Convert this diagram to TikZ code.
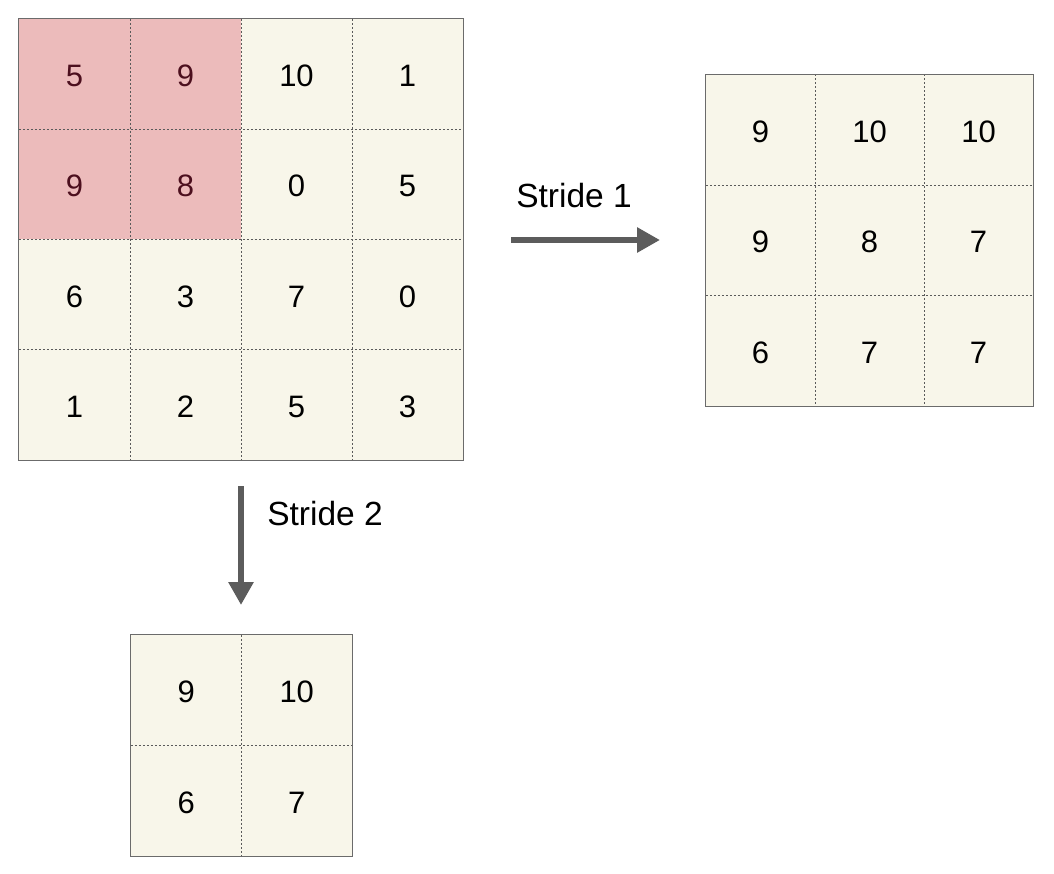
\documentclass[tikz,border=0pt]{standalone}
\usepackage{fontspec}
\setmainfont{Liberation Sans}
\usetikzlibrary{arrows.meta}
\definecolor{cream}{HTML}{F8F6EA}
\definecolor{pinkc}{HTML}{ECBBBB}
\definecolor{pinktxt}{HTML}{4C0F1E}
\definecolor{gridc}{HTML}{5A5A5A}
\definecolor{outerc}{HTML}{6B6B6B}
\definecolor{arrc}{HTML}{5C5C5C}
\tikzset{
  cellbase/.style={fill=cream, inner sep=0pt, text height=25pt, text depth=0pt, font=\fontsize{31}{36}\selectfont},
  cellA/.style={cellbase, minimum width=111pt, minimum height=110.25pt},
  hlA/.style={cellA, fill=pinkc, text=pinktxt},
  cellB/.style={cellbase, minimum width=109pt, minimum height=110.5pt},
  cellC/.style={cellbase, minimum width=110.5pt, minimum height=110.5pt},
  gridline/.style={gridc, line width=1pt, dash pattern=on 2pt off 2pt},
  outerline/.style={outerc, line width=1.2pt},
  bigarrow/.style={arrc, line width=6pt, -{Triangle[length=23pt,width=24pt]}},
  lbl/.style={font=\fontsize{33.5}{40}\selectfont, inner sep=0pt}
}
\begin{document}
\begin{tikzpicture}[x=1pt,y=-1pt]
\useasboundingbox (0,0) rectangle (1054,874);
% main 4x4 grid
\foreach \r/\c/\v/\s in {0/0/5/hlA,0/1/9/hlA,0/2/10/cellA,0/3/1/cellA,
                         1/0/9/hlA,1/1/8/hlA,1/2/0/cellA,1/3/5/cellA,
                         2/0/6/cellA,2/1/3/cellA,2/2/7/cellA,2/3/0/cellA,
                         3/0/1/cellA,3/1/2/cellA,3/2/5/cellA,3/3/3/cellA}
  \node[\s] (A\r\c) at (19+111*\c+55.5, 19+110.25*\r+55.125) {\v};
\foreach \c in {0,1,2} \draw[gridline] (A0\c.north east) -- (A3\c.south east);
\foreach \r in {0,1,2} \draw[gridline] (A\r0.south west) -- (A\r3.south east);
\draw[outerline] (A00.north west) rectangle (A33.south east);
% right 3x3 grid
\foreach \r/\c/\v in {0/0/9,0/1/10,0/2/10,1/0/9,1/1/8,1/2/7,2/0/6,2/1/7,2/2/7}
  \node[cellB] (B\r\c) at (706+109*\c+54.5, 74.5+110.5*\r+55.25) {\v};
\foreach \c in {0,1} \draw[gridline] (B0\c.north east) -- (B2\c.south east);
\foreach \r in {0,1} \draw[gridline] (B\r0.south west) -- (B\r2.south east);
\draw[outerline] (B00.north west) rectangle (B22.south east);
% bottom 2x2 grid
\foreach \r/\c/\v in {0/0/9,0/1/10,1/0/6,1/1/7}
  \node[cellC] (C\r\c) at (131+110.5*\c+55.25, 635+110.5*\r+55.25) {\v};
\draw[gridline] (C00.north east) -- (C10.south east);
\draw[gridline] (C00.south west) -- (C01.south east);
\draw[outerline] (C00.north west) rectangle (C11.south east);
% arrows
\coordinate (s1a) at (511,240);
\coordinate (s1b) at (660,240);
\coordinate (s2a) at (241,486);
\coordinate (s2b) at (241,605);
\draw[bigarrow] (s1a) -- (s1b);
\draw[bigarrow] (s2a) -- (s2b);
\node[lbl] (t1) at (574,196) {Stride 1};
\node[lbl] (t2) at (325,514) {Stride 2};
\end{tikzpicture}
\end{document}
